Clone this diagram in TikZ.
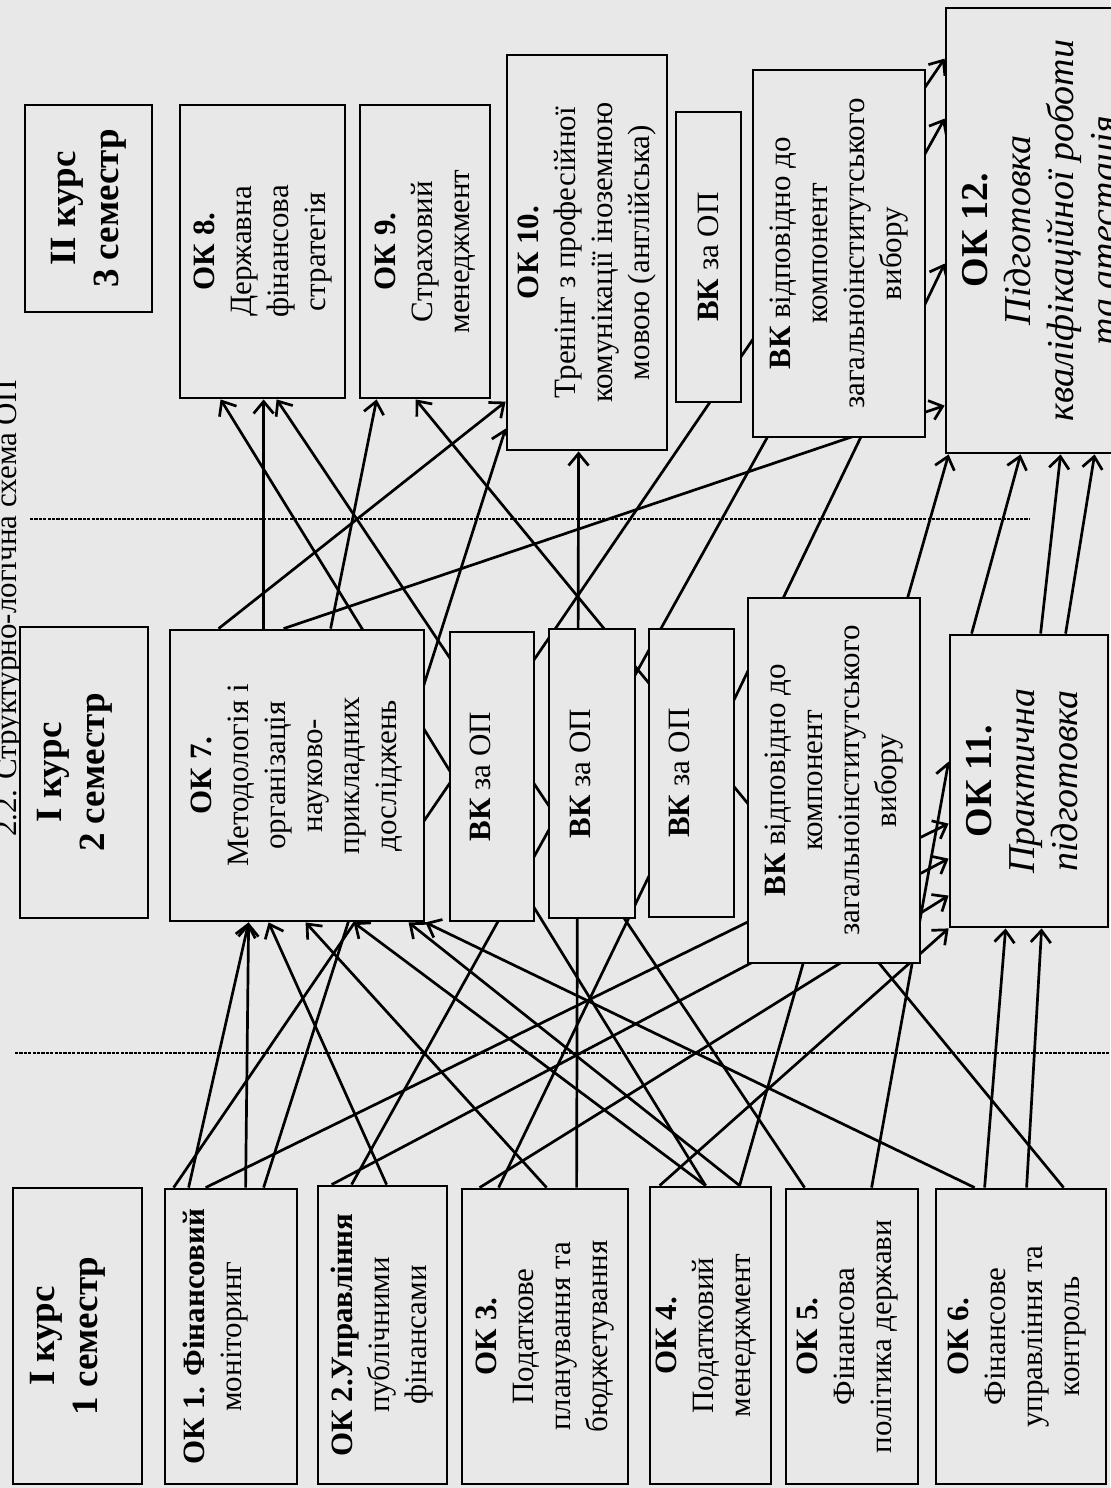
\documentclass[tikz,border=0pt]{standalone}
\usepackage{fontspec}
\setmainfont{Liberation Serif}
\usetikzlibrary{arrows.meta, calc, fit}
\definecolor{paper}{RGB}{232,232,232}
\pgfdeclarelayer{back}
\pgfdeclarelayer{links}
\pgfsetlayers{back,links,main}

\begin{document}
\begin{tikzpicture}[x=0.5pt, y=-0.5pt,
    box/.style={draw, line width=1.4pt, fill=paper, inner sep=0pt},
    lbl/.style={rotate=90, align=center, inner sep=0pt,
      font=\fontsize{15.5}{18.5}\selectfont},
    headlbl/.style={lbl, font=\fontsize{18.5}{21.5}\selectfont\bfseries},
    biglbl/.style={lbl, font=\fontsize{19}{21.5}\selectfont},
    link/.style={line width=1.35pt,
      -{Straight Barb[length=6pt, width=10pt, line width=1.35pt]}},
    sep/.style={line width=1.1pt, dash pattern=on 1.6pt off 0.6pt}]
    \useasboundingbox (0,0) rectangle (1110,1488);
    \begin{pgfonlayer}{back}
        \fill[paper] (0,0) rectangle (1110,1488);
    \end{pgfonlayer}

    %заголовок
    \node[rotate=90, anchor=base west, inner sep=0pt, font=\fontsize{15.5}{18.5}\selectfont]
        (title) at (17,837) {2.2. Структурно-логічна схема ОП};

    %I курс, 1 семестр
    \node[box, fit={(13,1188) (142,1484)}] (h1) {};
    \node[headlbl] (h1-t) at ($(h1)+(-10,0)$) {I курс\\1 семестр};
    \node[box, fit={(165,1189) (297,1484)}] (ok1) {};
    \node[lbl] (ok1-t) at ($(ok1)+(-15,0)$) {\textbf{ОК 1. Фінансовий}\\моніторинг};
    \node[box, fit={(318,1186) (447,1484)}] (ok2) {};
    \node[lbl] (ok2-t) at (ok2) {\textbf{ОК 2.Управління}\\публічними\\фінансами};
    \node[box, fit={(462,1189) (628,1484)}] (ok3) {};
    \node[lbl] (ok3-t) at (ok3) {\textbf{ОК 3.}\\Податкове\\планування та\\бюджетування};
    \node[box, fit={(650,1187) (771,1484)}] (ok4) {};
    \node[lbl] (ok4-t) at ($(ok4)+(-4,0)$) {\textbf{ОК 4.}\\Податковий\\менеджмент};
    \node[box, fit={(786,1189) (918,1484)}] (ok5) {};
    \node[lbl] (ok5-t) at ($(ok5)+(-4,0)$) {\textbf{ОК 5.}\\Фінансова\\політика держави};
    \node[box, fit={(936,1189) (1106,1484)}] (ok6) {};
    \node[lbl] (ok6-t) at ($(ok6)+(-4,0)$) {\textbf{ОК 6.}\\Фінансове\\управління та\\контроль};

    %I курс, 2 семестр
    \node[box, fit={(20,627) (148,918)}] (h2) {};
    \node[headlbl] (h2-t) at ($(h2)+(-9,0)$) {I курс\\2 семестр};
    \node[box, fit={(170,630) (424,921)}] (ok7) {};
    \node[lbl] (ok7-t) at (ok7)
        {\textbf{ОК 7.}\\Методологія і\\організація\\науково-\\прикладних\\досліджень};
    \node[box, fit={(450,632) (534,921)}] (vk2a) {};
    \node[lbl] (vk2a-t) at ($(vk2a)+(-12,0)$) {\textbf{ВК} за ОП};
    \node[box, fit={(549,629) (635,918)}] (vk2b) {};
    \node[lbl] (vk2b-t) at ($(vk2b)+(-12,0)$) {\textbf{ВК} за ОП};
    \node[box, fit={(649,629) (734,917)}] (vk2c) {};
    \node[lbl] (vk2c-t) at ($(vk2c)+(-12,0)$) {\textbf{ВК} за ОП};
    \node[box, fit={(748,598) (920,963)}] (vk2d) {};
    \node[lbl] (vk2d-t) at (vk2d)
        {\textbf{ВК} відповідно до\\компонент\\загальноінститутського\\вибору};
    \node[box, fit={(950,635) (1108,927)}] (ok11) {};
    \node[biglbl] (ok11-t) at ($(ok11)+(-7,0)$)
        {\textbf{ОК 11.}\\\textit{Практична}\\\textit{підготовка}};

    %II курс, 3 семестр
    \node[box, fit={(25,105) (152,312)}] (h3) {};
    \node[headlbl] (h3-t) at (h3) {II курс\\3 семестр};
    \node[box, fit={(180,105) (345,398)}] (ok8) {};
    \node[lbl] (ok8-t) at (ok8) {\textbf{ОК 8.}\\Державна\\фінансова\\стратегія};
    \node[box, fit={(360,105) (490,398)}] (ok9) {};
    \node[lbl] (ok9-t) at (ok9) {\textbf{ОК 9.}\\Страховий\\менеджмент};
    \node[box, fit={(507,55) (667,450)}] (ok10) {};
    \node[lbl] (ok10-t) at (ok10)
        {\textbf{ОК 10.}\\Тренінг з професійної\\комунікації іноземною\\мовою (англійська)};
    \node[box, fit={(676,112) (741,402)}] (vk3a) {};
    \node[lbl] (vk3a-t) at (vk3a) {\textbf{ВК} за ОП};
    \node[box, fit={(753,70) (925,437)}] (vk3b) {};
    \node[lbl] (vk3b-t) at (vk3b)
        {\textbf{ВК} відповідно до\\компонент\\загальноінститутського\\вибору};
    \node[box, fit={(946,8) (1140,453)}] (ok12) {};
    \node[biglbl] (ok12-t) at (ok12)
        {\textbf{ОК 12.}\\\textit{Підготовка}\\\textit{кваліфікаційної роботи}\\\textit{та атестація}};

    %межі семестрів
    \draw[sep] (30,519) -- (1030,519);
    \draw[sep] (15,1053) -- (1110,1053);

    \begin{pgfonlayer}{links}
        %з 1 семестру
        \draw[link] ($(ok1.north west)+(10,0)$) -- ($(ok12.north west)+(0,52)$);
        \draw[link] ($(ok1.north west)+(25,0)$) -- ($(ok7.south west)+(80,0)$);
        \draw[link] ($(ok1.north west)+(82,0)$) -- ($(ok7.south west)+(80,0)$);
        \draw[link] ($(ok1.north west)+(42,0)$) -- ($(ok11.north west)+(0,190)$);
        \draw[link] ($(ok1.north west)+(100,0)$) -- ($(ok10.north west)+(0,375)$);
        \draw[link] ($(ok2.north west)+(15,0)$) -- ($(ok11.north west)+(0,225)$);
        \draw[link] ($(ok2.north west)+(35,0)$) -- ($(ok12.north west)+(0,112)$);
        \draw[link] ($(ok2.north west)+(70,0)$) -- ($(ok7.south west)+(100,0)$);
        \draw[link] ($(ok3.north west)+(19,0)$) -- ($(ok11.north west)+(0,262)$);
        \draw[link] ($(ok3.north west)+(38,0)$) -- ($(ok12.north west)+(0,257)$);
        \draw[link] ($(ok3.north west)+(86,0)$) -- ($(ok7.south west)+(137,0)$);
        \draw[link] ($(ok3.north west)+(116,0)$) -- ($(ok10.south west)+(73,0)$);
        \draw[link] ($(ok4.north west)+(11,0)$) -- (ok11.south west);
        \draw[link] ($(ok4.north west)+(57,0)$) -- ($(ok8.south west)+(42,0)$);
        \draw[link] ($(ok4.north west)+(57,0)$) -- ($(ok7.south west)+(185,0)$);
        \draw[link] ($(ok4.north west)+(91,0)$) -- ($(ok7.south west)+(240,0)$);
        \draw[link] ($(ok4.north west)+(91,0)$) -- ($(ok12.south west)+(4,0)$);
        \draw[link] ($(ok5.north west)+(20,0)$) -- ($(ok8.south west)+(98,0)$);
        \draw[link] ($(ok5.north west)+(87,0)$) -- ($(ok11.north west)+(0,128)$);
        \draw[link] ($(ok6.north west)+(40,0)$) -- (ok7.south east);
        \draw[link] ($(ok6.north west)+(50,0)$) -- ($(ok11.south west)+(57,0)$);
        \draw[link] ($(ok6.north west)+(92,0)$) -- ($(ok11.south west)+(93,0)$);
        \draw[link] ($(ok6.north west)+(129,0)$) -- ($(ok9.south west)+(57,0)$);
        %з 2 семестру
        \draw[link] ($(ok7.north west)+(50,0)$) -- ($(ok10.north west)+(0,348)$);
        \draw[link] ($(ok7.north west)+(95,0)$) -- ($(ok8.south west)+(85,0)$);
        \draw[link] ($(ok7.north west)+(115,0)$) -- ($(ok12.north west)+(0,399)$);
        \draw[link] ($(ok7.north west)+(162,0)$) -- ($(ok9.south west)+(18,0)$);
        \draw[link] ($(ok11.north west)+(23,0)$) -- ($(ok12.south west)+(76,0)$);
        \draw[link] ($(ok11.north west)+(92,0)$) -- ($(ok12.south west)+(116,0)$);
        \draw[link] ($(ok11.north west)+(117,0)$) -- ($(ok12.south west)+(150,0)$);
    \end{pgfonlayer}
\end{tikzpicture}
\end{document}
